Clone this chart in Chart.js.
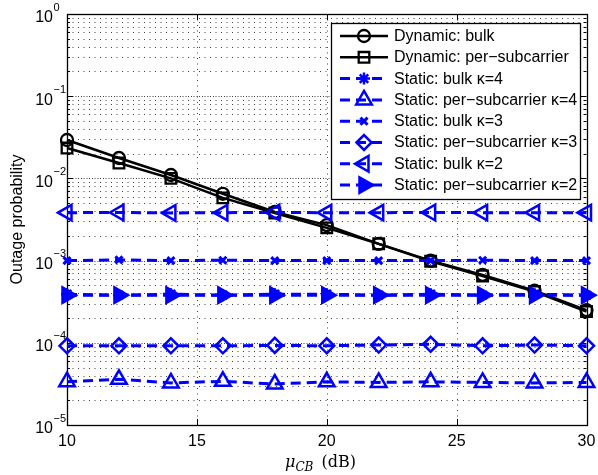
<!DOCTYPE html>
<html>
<head>
<meta charset="utf-8">
<script src="https://cdn.jsdelivr.net/npm/chart.js@4/dist/chart.umd.min.js"></script>
<style>
  html, body { margin: 0; padding: 0; background: #fff; }
  canvas { display: block; }
</style>
</head>
<body>
<canvas id="c" width="598" height="475"></canvas>
<script>
// Mean channel-to-bulk SNR values (dB)
const snr = [10, 12, 14, 16, 18, 20, 22, 24, 26, 28, 30];

// Outage probability per scheme
const dynBulk     = [0.0293, 0.0177, 0.0110, 0.0065, 0.0039, 0.0027, 0.0016, 0.0010, 0.00067, 0.00043, 0.00025];
const dynPerSub   = [0.0234, 0.0154, 0.0100, 0.0058, 0.0038, 0.0025, 0.0016, 0.00098, 0.00065, 0.00042, 0.00024];
const statBulk4   = [3.9e-4, 3.8e-4, 3.9e-4, 3.8e-4, 3.9e-4, 3.9e-4, 3.8e-4, 3.9e-4, 3.8e-4, 3.9e-4, 3.8e-4];
const statPerSub4 = [3.36e-5, 3.6e-5, 3.25e-5, 3.4e-5, 3.15e-5, 3.35e-5, 3.3e-5, 3.35e-5, 3.3e-5, 3.25e-5, 3.3e-5];
const statBulk3   = [1.0e-3, 1.02e-3, 1.0e-3, 1.01e-3, 1.0e-3, 1.0e-3, 1.0e-3, 1.0e-3, 1.01e-3, 1.0e-3, 1.0e-3];
const statPerSub3 = [9.2e-5, 9.2e-5, 9.2e-5, 9.2e-5, 9.3e-5, 9.2e-5, 9.4e-5, 9.6e-5, 9.2e-5, 9.4e-5, 9.2e-5];
const statBulk2   = [3.83e-3, 3.85e-3, 3.8e-3, 3.83e-3, 3.85e-3, 3.83e-3, 3.83e-3, 3.85e-3, 3.83e-3, 3.83e-3, 3.83e-3];
const statPerSub2 = [3.8e-4, 3.8e-4, 3.8e-4, 3.8e-4, 3.8e-4, 3.8e-4, 3.8e-4, 3.8e-4, 3.8e-4, 3.8e-4, 3.8e-4];

const seriesNames = [
  'Dynamic: bulk',
  'Dynamic: per\u2212subcarrier',
  'Static: bulk \u03BA=4',
  'Static: per\u2212subcarrier \u03BA=4',
  'Static: bulk \u03BA=3',
  'Static: per\u2212subcarrier \u03BA=3',
  'Static: bulk \u03BA=2',
  'Static: per\u2212subcarrier \u03BA=2'
];
const seriesValues = [dynBulk, dynPerSub, statBulk4, statPerSub4, statBulk3, statPerSub3, statBulk2, statPerSub2];

// Axis ticks
const xTicks = [10, 15, 20, 25, 30];
const yExponents = [0, -1, -2, -3, -4, -5];

const SANS = '"Liberation Sans", Arial, Helvetica, sans-serif';
const SERIF = '"DejaVu Serif", "Liberation Serif", serif';
const BLUE = '#0000ff';
const DASH = [10, 6];

const looks = [
  { color: '#000', dash: [],   lw: 2.5, marker: 'circle',   radius: 6,   pw: 2.3, rot: 0,   fill: false },
  { color: '#000', dash: [],   lw: 2.5, marker: 'rect',     radius: 7.5, pw: 2.3, rot: 0,   fill: false },
  { color: BLUE,   dash: DASH, lw: 3,   marker: 'star',     radius: 6,   pw: 2.5, rot: 0,   fill: false },
  { color: BLUE,   dash: DASH, lw: 3,   marker: 'triangle', radius: 9,   pw: 2.5, rot: 0,   fill: false },
  { color: BLUE,   dash: DASH, lw: 3,   marker: 'crossRot', radius: 5,   pw: 3,   rot: 0,   fill: false },
  { color: BLUE,   dash: DASH, lw: 3,   marker: 'rectRot',  radius: 7.5, pw: 2.5, rot: 0,   fill: false },
  { color: BLUE,   dash: DASH, lw: 3,   marker: 'triangle', radius: 9,   pw: 2.5, rot: -90, fill: false },
  { color: BLUE,   dash: DASH, lw: 3,   marker: 'triangle', radius: 9,   pw: 2.5, rot: 90,  fill: true }
];

const datasets = seriesValues.map((vals, i) => {
  const s = looks[i];
  return {
    label: seriesNames[i],
    data: snr.map((x, k) => ({ x: x, y: vals[k] })),
    borderColor: s.color,
    borderWidth: s.lw,
    borderDash: s.dash,
    pointStyle: s.marker,
    pointRadius: s.radius,
    pointHoverRadius: s.radius,
    pointBorderWidth: s.pw,
    pointBorderColor: s.color,
    pointBackgroundColor: s.fill ? s.color : 'rgba(0,0,0,0)',
    pointRotation: s.rot,
    tension: 0,
    fill: false,
    clip: false,
    order: seriesValues.length - i
  };
});

function drawMarker(ctx, s, x, y) {
  ctx.save();
  ctx.setLineDash([]);
  ctx.strokeStyle = s.color;
  ctx.fillStyle = s.fill ? s.color : 'rgba(0,0,0,0)';
  ctx.lineWidth = s.pw;
  if (Chart.helpers && Chart.helpers.drawPoint) {
    Chart.helpers.drawPoint(ctx, { pointStyle: s.marker, rotation: s.rot, radius: s.radius, borderWidth: s.pw }, x, y);
  } else {
    ctx.beginPath();
    ctx.arc(x, y, s.radius, 0, Math.PI * 2);
    ctx.stroke();
  }
  ctx.restore();
}

// Dotted grid, axes box, inward tick marks and power-of-ten labels
const axesPlugin = {
  id: 'axesFrame',
  beforeDatasetsDraw(chart) {
    const ctx = chart.ctx;
    const a = chart.chartArea;
    const xs = chart.scales.x, ys = chart.scales.y;
    ctx.save();
    ctx.lineWidth = 1;
    ctx.strokeStyle = 'rgba(0,0,0,0.75)';
    ctx.setLineDash([1, 4.5]);
    // horizontal grid (decades and minor steps)
    for (let e = -5; e < 0; e++) {
      for (let m = 1; m <= 9; m++) {
        const v = m * Math.pow(10, e);
        const py = Math.round(ys.getPixelForValue(v)) + 0.5;
        if (m === 1 && e === -5) continue;
        ctx.beginPath();
        ctx.moveTo(a.left, py);
        ctx.lineTo(a.right, py);
        ctx.stroke();
        if (m === 1) {
          ctx.lineDashOffset = 2.5;
          ctx.beginPath();
          ctx.moveTo(a.left, py);
          ctx.lineTo(a.right, py);
          ctx.stroke();
          ctx.lineDashOffset = 0;
        }
      }
    }
    // vertical grid at inner x ticks
    xTicks.forEach(v => {
      if (v === xTicks[0] || v === xTicks[xTicks.length - 1]) return;
      const px = Math.round(xs.getPixelForValue(v)) + 0.5;
      ctx.beginPath();
      ctx.moveTo(px, a.top);
      ctx.lineTo(px, a.bottom);
      ctx.stroke();
    });
    ctx.setLineDash([]);
    ctx.strokeStyle = '#000';
    // inward tick marks
    ctx.beginPath();
    xTicks.forEach(v => {
      const px = Math.round(xs.getPixelForValue(v)) + 0.5;
      ctx.moveTo(px, a.bottom); ctx.lineTo(px, a.bottom - 6);
      ctx.moveTo(px, a.top); ctx.lineTo(px, a.top + 6);
    });
    for (let e = -5; e <= 0; e++) {
      for (let m = 1; m <= 9; m++) {
        if (e === 0 && m > 1) break;
        const py = Math.round(ys.getPixelForValue(m * Math.pow(10, e))) + 0.5;
        const len = m === 1 ? 6 : 3;
        ctx.moveTo(a.left, py); ctx.lineTo(a.left + len, py);
        ctx.moveTo(a.right, py); ctx.lineTo(a.right - len, py);
      }
    }
    ctx.stroke();
    // box
    ctx.lineWidth = 1.3;
    ctx.strokeRect(Math.round(a.left) + 0.5, Math.round(a.top) + 0.5,
                   Math.round(a.right - a.left), Math.round(a.bottom - a.top));
    // y tick labels 10^e
    ctx.fillStyle = '#000';
    yExponents.forEach(e => {
      const py = ys.getPixelForValue(Math.pow(10, e));
      ctx.font = '16px ' + SANS;
      ctx.textAlign = 'right';
      ctx.textBaseline = 'alphabetic';
      ctx.fillText('10', 53, py + 8.3);
      ctx.font = '11px ' + SANS;
      ctx.textAlign = 'left';
      ctx.fillText(e === 0 ? '0' : '\u2212' + Math.abs(e), 53.5, py - 3.4);
    });
    ctx.restore();
  },
  afterDraw(chart) {
    const ctx = chart.ctx;
    ctx.save();
    // x axis title: mu_CB (dB)
    ctx.fillStyle = '#000';
    ctx.textBaseline = 'alphabetic';
    ctx.textAlign = 'left';
    const fMu = 'italic 16px ' + SERIF, fSub = 'italic 12px ' + SERIF, fRest = '16px ' + SERIF;
    ctx.font = fMu; const wMu = ctx.measureText('\u03BC').width;
    ctx.font = fSub; const wSub = ctx.measureText('CB').width;
    ctx.font = fRest; const wRest = ctx.measureText(' (dB)').width;
    const gap = 3;
    const total = wMu + wSub + gap + wRest;
    let tx = 320.5 - total / 2;
    const base = 467;
    ctx.font = fMu; ctx.fillText('\u03BC', tx, base); tx += wMu;
    ctx.font = fSub; ctx.fillText('CB', tx, base + 3.5); tx += wSub + gap;
    ctx.font = fRest; ctx.fillText(' (dB)', tx, base);

    // legend box
    const x0 = 331, y0 = 23, x1 = 580, y1 = 199;
    ctx.fillStyle = '#fff';
    ctx.fillRect(x0, y0, x1 - x0, y1 - y0);
    ctx.strokeStyle = '#000';
    ctx.lineWidth = 1.3;
    ctx.strokeRect(x0 + 0.5, y0 + 0.5, x1 - x0, y1 - y0);
    chart.data.datasets.forEach((ds, i) => {
      const s = looks[i];
      const y = 36 + i * 21.3;
      ctx.save();
      ctx.strokeStyle = s.color;
      ctx.lineWidth = s.lw;
      ctx.setLineDash(s.dash);
      ctx.beginPath();
      ctx.moveTo(340, y);
      ctx.lineTo(388, y);
      ctx.stroke();
      ctx.restore();
      drawMarker(ctx, s, 364, y);
      ctx.fillStyle = '#000';
      ctx.font = '16px ' + SANS;
      ctx.textAlign = 'left';
      ctx.textBaseline = 'middle';
      ctx.fillText(ds.label, 394, y + 0.5);
    });
    ctx.restore();
  }
};

const whiteBg = {
  id: 'whiteBg',
  beforeDraw(chart) {
    const ctx = chart.ctx;
    ctx.save();
    ctx.fillStyle = '#fff';
    ctx.fillRect(0, 0, chart.width, chart.height);
    ctx.restore();
  }
};

new Chart(document.getElementById('c'), {
  type: 'line',
  data: { datasets: datasets },
  options: {
    responsive: false,
    animation: false,
    devicePixelRatio: 1,
    events: [],
    layout: { padding: { left: 0, right: 11, top: 14, bottom: 0 } },
    plugins: { legend: { display: false }, tooltip: { enabled: false } },
    scales: {
      x: {
        type: 'linear',
        min: 10,
        max: 30,
        afterBuildTicks: s => { s.ticks = xTicks.map(v => ({ value: v })); },
        afterFit: s => { s.height = 50; },
        grid: { display: false },
        border: { display: false },
        ticks: {
          font: { family: SANS, size: 16 },
          color: '#000',
          padding: -1,
          maxRotation: 0,
          autoSkip: false
        }
      },
      y: {
        type: 'logarithmic',
        min: 1e-5,
        max: 1,
        afterFit: s => { s.width = 67; },
        grid: { display: false },
        border: { display: false },
        ticks: { display: false },
        title: {
          display: true,
          text: 'Outage probability',
          font: { family: SANS, size: 16 },
          color: '#000',
          padding: { top: 8, bottom: 0 }
        }
      }
    }
  },
  plugins: [whiteBg, axesPlugin]
});
</script>
</body>
</html>
